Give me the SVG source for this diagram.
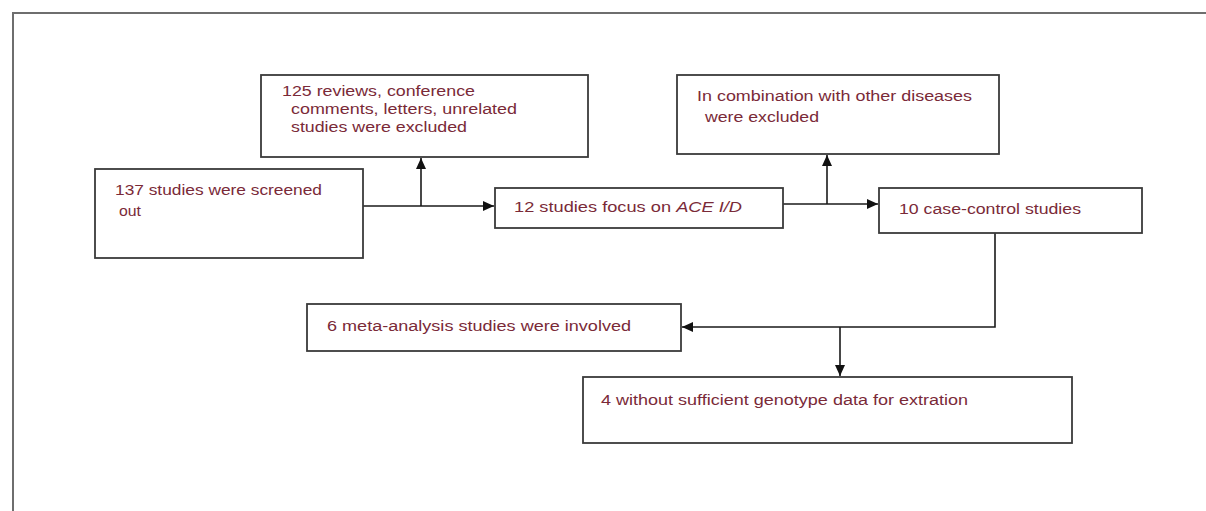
<svg xmlns="http://www.w3.org/2000/svg" width="1206" height="511" viewBox="0 0 1206 511">
<style>
.box{fill:#fff;stroke:#3a3a3a;stroke-width:1.8}
.t{font-family:"Liberation Sans",Arial,sans-serif;font-size:14px;fill:#7a2a38}
.c{fill:none;stroke:#1a1a1a;stroke-width:1.6}
.frame{fill:none;stroke:#6e6e6e;stroke-width:2}
</style>
<defs>
<marker id="ah" markerUnits="userSpaceOnUse" markerWidth="12" markerHeight="10" refX="11" refY="5" orient="auto">
<path d="M0,0 L11,5 L0,10 Z" fill="#111"/>
</marker>
</defs>
<rect width="1206" height="511" fill="#fff"/>
<path class="frame" d="M13,511 V13 H1206"/>
<g id="connectors">
<path class="c" d="M363,206 H494" marker-end="url(#ah)"/>
<path class="c" d="M421,206 V158" marker-end="url(#ah)"/>
<path class="c" d="M783,204 H878" marker-end="url(#ah)"/>
<path class="c" d="M827,204 V155" marker-end="url(#ah)"/>
<path class="c" d="M995,233 V327 H682" marker-end="url(#ah)"/>
<path class="c" d="M840,327 V376" marker-end="url(#ah)"/>
</g>
<g id="n137">
<rect class="box" x="95" y="169" width="268" height="89"/>
<text class="t" x="115" y="195" textLength="207" lengthAdjust="spacingAndGlyphs">137 studies were screened</text>
<text class="t" x="119" y="216" textLength="22" lengthAdjust="spacingAndGlyphs">out</text>
</g>
<g id="n125">
<rect class="box" x="261" y="75" width="327" height="82"/>
<text class="t" x="282" y="96" textLength="193" lengthAdjust="spacingAndGlyphs">125 reviews, conference</text>
<text class="t" x="291" y="114" textLength="226" lengthAdjust="spacingAndGlyphs">comments, letters, unrelated</text>
<text class="t" x="291" y="132" textLength="176" lengthAdjust="spacingAndGlyphs">studies were excluded</text>
</g>
<g id="n12">
<rect class="box" x="495" y="188" width="288" height="40"/>
<text class="t" x="514" y="212" textLength="228" lengthAdjust="spacingAndGlyphs">12 studies focus on <tspan font-style="italic">ACE I/D</tspan></text>
</g>
<g id="ncomb">
<rect class="box" x="677" y="75" width="322" height="79"/>
<text class="t" x="697" y="101" textLength="275" lengthAdjust="spacingAndGlyphs">In combination with other diseases</text>
<text class="t" x="705" y="122" textLength="114" lengthAdjust="spacingAndGlyphs">were excluded</text>
</g>
<g id="n10">
<rect class="box" x="879" y="188" width="263" height="45"/>
<text class="t" x="899" y="214" textLength="182" lengthAdjust="spacingAndGlyphs">10 case-control studies</text>
</g>
<g id="n6">
<rect class="box" x="307" y="304" width="374" height="47"/>
<text class="t" x="327" y="331" textLength="304" lengthAdjust="spacingAndGlyphs">6 meta-analysis studies were involved</text>
</g>
<g id="n4">
<rect class="box" x="583" y="377" width="489" height="66"/>
<text class="t" x="601" y="405" textLength="367" lengthAdjust="spacingAndGlyphs">4 without sufficient genotype data for extration</text>
</g>
</svg>
